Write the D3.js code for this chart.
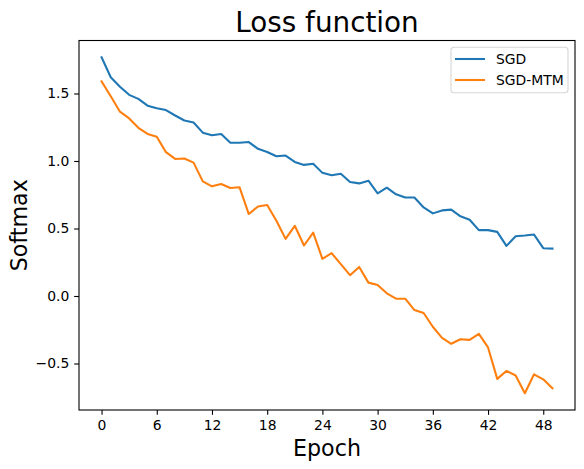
<!DOCTYPE html>
<html>
<head>
<meta charset="utf-8">
<script src="https://cdn.jsdelivr.net/npm/d3@7"></script>
<style>
  body { margin: 0; background: #fff; }
  svg { display: block; font-family: "DejaVu Sans", sans-serif; }
</style>
</head>
<body>
<div id="chart"></div>
<script>
// values
const epochs = d3.range(50);
const sgd = [
  1.768, 1.62, 1.55, 1.49, 1.46, 1.41, 1.39, 1.377, 1.337, 1.30,
  1.285, 1.21, 1.19, 1.20, 1.135, 1.135, 1.14, 1.09, 1.067, 1.035,
  1.04, 0.993, 0.971, 0.98, 0.912, 0.894, 0.906, 0.845, 0.834, 0.854,
  0.76, 0.802, 0.753, 0.73, 0.73, 0.656, 0.612, 0.634, 0.64, 0.59,
  0.565, 0.488, 0.488, 0.475, 0.371, 0.443, 0.448, 0.455, 0.354, 0.351
];
const sgdMtm = [
  1.59, 1.48, 1.365, 1.315, 1.246, 1.20, 1.18, 1.065, 1.015, 1.018,
  0.988, 0.849, 0.812, 0.83, 0.80, 0.805, 0.607, 0.663, 0.674, 0.557,
  0.423, 0.52, 0.374, 0.47, 0.275, 0.317, 0.236, 0.154, 0.215, 0.099,
  0.082, 0.02, -0.02, -0.02, -0.104, -0.126, -0.228, -0.31, -0.354, -0.32,
  -0.325, -0.28, -0.381, -0.614, -0.555, -0.589, -0.72, -0.58, -0.617, -0.684
];
const seriesNames = ["SGD", "SGD-MTM"];
const colors = ["#1f77b4", "#ff7f0e"];
const xTicks = [0, 6, 12, 18, 24, 30, 36, 42, 48];
const yTicks = [-0.5, 0.0, 0.5, 1.0, 1.5];

const width = 584, height = 469;
const margin = {top: 40.5, right: 9, bottom: 59, left: 79};
const plotW = width - margin.left - margin.right;
const plotH = height - margin.top - margin.bottom;

const svg = d3.select("#chart").append("svg")
  .attr("width", width)
  .attr("height", height);

// matplotlib style 5% margins
const xExt = d3.extent(epochs);
const xPad = (xExt[1] - xExt[0]) * 0.05;
const allVals = sgd.concat(sgdMtm);
const yExt = d3.extent(allVals);
const yPad = (yExt[1] - yExt[0]) * 0.05;

const x = d3.scaleLinear()
  .domain([xExt[0] - xPad, xExt[1] + xPad])
  .range([margin.left, margin.left + plotW]);
const y = d3.scaleLinear()
  .domain([yExt[0] - yPad, yExt[1] + yPad])
  .range([margin.top + plotH, margin.top]);

const tickLen = 4.86;

const xAxis = svg.append("g")
  .attr("transform", "translate(0," + (margin.top + plotH) + ")")
  .call(d3.axisBottom(x).tickValues(xTicks).tickFormat(d3.format("d"))
    .tickSize(tickLen).tickPadding(4.86).tickSizeOuter(0));

const yAxis = svg.append("g")
  .attr("transform", "translate(" + margin.left + ",0)")
  .call(d3.axisLeft(y).tickValues(yTicks).tickFormat(d3.format(".1f"))
    .tickSize(tickLen).tickPadding(4.86).tickSizeOuter(0));

[xAxis, yAxis].forEach(g => {
  g.select(".domain").remove();
  g.selectAll(".tick line").attr("stroke", "#000").attr("stroke-width", 1.1);
  g.selectAll(".tick text")
    .attr("fill", "#000")
    .style("font-family", "DejaVu Sans")
    .style("font-size", "13.9px");
});

// lines
const line = d3.line()
  .x((d, i) => x(epochs[i]))
  .y(d => y(d));

[sgd, sgdMtm].forEach((vals, k) => {
  svg.append("path")
    .datum(vals)
    .attr("fill", "none")
    .attr("stroke", colors[k])
    .attr("stroke-width", 2.08)
    .attr("stroke-linejoin", "round")
    .attr("stroke-linecap", "square")
    .attr("d", line);
});

// frame
svg.append("rect")
  .attr("x", margin.left)
  .attr("y", margin.top)
  .attr("width", plotW)
  .attr("height", plotH)
  .attr("fill", "none")
  .attr("stroke", "#000")
  .attr("stroke-width", 1.1);

// title and axis labels
svg.append("text")
  .attr("x", margin.left + plotW / 2)
  .attr("y", 32)
  .attr("text-anchor", "middle")
  .style("font-size", "27.8px")
  .text("Loss function");

svg.append("text")
  .attr("x", margin.left + plotW / 2)
  .attr("y", 456)
  .attr("text-anchor", "middle")
  .style("font-size", "22.2px")
  .text("Epoch");

svg.append("text")
  .attr("transform", "translate(27," + (margin.top + plotH / 2) + ") rotate(-90)")
  .attr("text-anchor", "middle")
  .style("font-size", "22.2px")
  .text("Softmax");

// legend
const legend = svg.append("g").attr("transform", "translate(451,47.3)");
legend.append("rect")
  .attr("width", 117)
  .attr("height", 45.4)
  .attr("rx", 3)
  .attr("fill", "#fff")
  .attr("fill-opacity", 0.8)
  .attr("stroke", "#cccccc")
  .attr("stroke-opacity", 0.8)
  .attr("stroke-width", 1.1);

seriesNames.forEach((name, k) => {
  const ly = 11.7 + k * 21;
  legend.append("line")
    .attr("x1", 4).attr("x2", 34)
    .attr("y1", ly).attr("y2", ly)
    .attr("stroke", colors[k])
    .attr("stroke-width", 2.08);
  legend.append("text")
    .attr("x", 45)
    .attr("y", ly)
    .attr("dy", "0.36em")
    .style("font-size", "13.9px")
    .text(name);
});
</script>
</body>
</html>
